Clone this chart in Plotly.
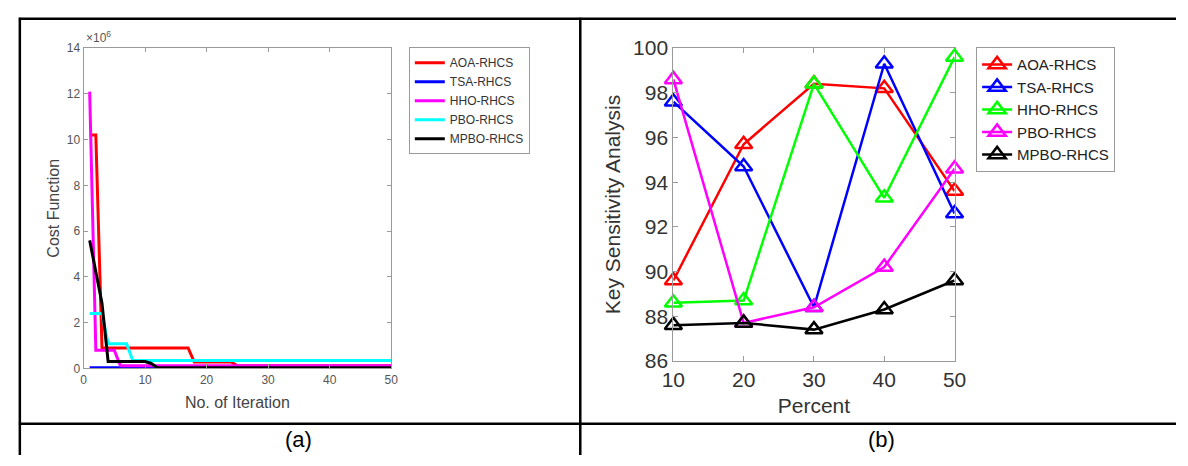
import plotly.graph_objects as go

W, H = 1188, 466
def px(x): return x / W
def py(y): return 1 - y / H

# ---------- data (a): convergence curves (cost in units of 1e6) ----------
series_names = ["AOA-RHCS", "TSA-RHCS", "HHO-RHCS", "PBO-RHCS", "MPBO-RHCS"]
conv_colors = ["#ff0000", "#0000ff", "#ff00ff", "#00ffff", "#000000"]

aoa_iter = [1, 2, 3, 17, 18, 24, 25, 50]
aoa_cost = [10.2, 10.2, 0.9, 0.9, 0.28, 0.28, 0.12, 0.12]
tsa_iter = [1, 50]
tsa_cost = [0.03, 0.03]
hho_iter = [1, 2, 5, 6, 50]
hho_cost = [12.1, 0.8, 0.8, 0.12, 0.12]
pbo_iter = [1, 3, 4, 7, 8, 50]
pbo_cost = [2.4, 2.4, 1.08, 1.08, 0.35, 0.35]
mpbo_iter = [1, 3, 4, 10, 11, 12, 50]
mpbo_cost = [5.6, 2.85, 0.3, 0.3, 0.22, 0.03, 0.03]

conv_x = [aoa_iter, tsa_iter, hho_iter, pbo_iter, mpbo_iter]
conv_y = [aoa_cost, tsa_cost, hho_cost, pbo_cost, mpbo_cost]

# ---------- data (b): key sensitivity ----------
percent = [10, 20, 30, 40, 50]
sens_names = ["AOA-RHCS", "TSA-RHCS", "HHO-RHCS", "PBO-RHCS", "MPBO-RHCS"]
sens_colors = ["#ff0000", "#0000ff", "#00ff00", "#ff00ff", "#000000"]
aoa_ks = [89.6, 95.7, 98.4, 98.2, 93.6]
tsa_ks = [97.6, 94.7, 88.4, 99.3, 92.6]
hho_ks = [88.6, 88.7, 98.4, 93.3, 99.6]
pbo_ks = [98.6, 87.7, 88.4, 90.2, 94.6]
mpbo_ks = [87.6, 87.7, 87.4, 88.3, 89.6]
sens_y = [aoa_ks, tsa_ks, hho_ks, pbo_ks, mpbo_ks]

FONT = "Liberation Sans, Arial, sans-serif"

fig = go.Figure()

for name, col, xs, ys in zip(series_names, conv_colors, conv_x, conv_y):
    fig.add_trace(go.Scatter(x=xs, y=ys, mode="lines", name=name,
                             line=dict(color=col, width=3),
                             xaxis="x", yaxis="y", legend="legend"))

for name, col, ys in zip(sens_names, sens_colors, sens_y):
    fig.add_trace(go.Scatter(x=percent, y=ys, mode="lines+markers", name=name,
                             line=dict(color=col, width=2.5),
                             marker=dict(symbol="triangle-up-open", size=15,
                                         color=col, line=dict(color=col, width=2.5)),
                             cliponaxis=False,
                             xaxis="x2", yaxis="y2", legend="legend2"))

axis_common = dict(showline=True, linecolor="#9a9a9a", linewidth=1, mirror="ticks",
                   ticks="inside", tickcolor="#9a9a9a", showgrid=False, zeroline=False)

fig.update_layout(
    width=W, height=H,
    margin=dict(l=0, r=0, t=0, b=0),
    paper_bgcolor="white", plot_bgcolor="white",
    font=dict(family=FONT),
    xaxis=dict(domain=[px(73), px(387)], range=[0, 50], tickvals=[0, 10, 20, 30, 40, 50],
               ticklen=4, tickfont=dict(size=12, color="#555555"),
               title=dict(text="No. of Iteration", font=dict(size=16, color="#444444"), standoff=10),
               anchor="y", **axis_common),
    yaxis=dict(domain=[py(375), py(38)], range=[0, 14], tickvals=list(range(0, 15, 2)),
               ticklen=4, tickfont=dict(size=12, color="#555555"),
               title=dict(text="Cost Function", font=dict(size=16, color="#444444"), standoff=3),
               anchor="x", **axis_common),
    xaxis2=dict(domain=[px(675), px(962)], range=[10, 50], tickvals=percent,
                ticklen=5, tickfont=dict(size=21, color="#333333"),
                title=dict(text="Percent", font=dict(size=21, color="#333333"), standoff=8),
                anchor="y2", **axis_common),
    yaxis2=dict(domain=[py(367), py(38)], range=[86, 100], tickvals=list(range(86, 101, 2)),
                ticklen=5, tickfont=dict(size=21, color="#333333"),
                title=dict(text="Key Sensitivity Analysis", font=dict(size=21, color="#333333"), standoff=6),
                anchor="x2", **axis_common),
    legend=dict(x=px(405), y=py(37), xanchor="left", yanchor="top",
                bordercolor="#9a9a9a", borderwidth=1, bgcolor="white",
                font=dict(size=12, color="#333333"), tracegroupgap=0),
    legend2=dict(x=px(984), y=py(37), xanchor="left", yanchor="top",
                 bordercolor="#9a9a9a", borderwidth=1, bgcolor="white",
                 font=dict(size=15, color="#222222"), tracegroupgap=0),
    showlegend=True,
)

# x10^6 exponent label
fig.add_annotation(text="×10<sup>6</sup>", xref="paper", yref="paper",
                   x=px(73), y=py(37), xanchor="left", yanchor="bottom",
                   showarrow=False, font=dict(size=12, color="#555555"))

# captions
fig.add_annotation(text="(a)", xref="paper", yref="paper", x=px(292), y=py(450),
                   xanchor="center", yanchor="middle", showarrow=False,
                   font=dict(size=22, color="#000000"))
fig.add_annotation(text="(b)", xref="paper", yref="paper", x=px(887), y=py(450),
                   xanchor="center", yanchor="middle", showarrow=False,
                   font=dict(size=22, color="#000000"))

# table borders
border = dict(color="black", width=2.5)
fig.add_shape(type="line", xref="paper", yref="paper", x0=px(7), x1=1, y0=py(7), y1=py(7), line=border)
fig.add_shape(type="line", xref="paper", yref="paper", x0=px(7), x1=1, y0=py(433), y1=py(433), line=border)
fig.add_shape(type="line", xref="paper", yref="paper", x0=px(8), x1=px(8), y0=py(6), y1=0, line=border)
fig.add_shape(type="line", xref="paper", yref="paper", x0=px(580), x1=px(580), y0=py(6), y1=0, line=border)

fig.write_html("out.html",
               post_script="document.body.style.margin='0';document.body.style.overflow='hidden';")
